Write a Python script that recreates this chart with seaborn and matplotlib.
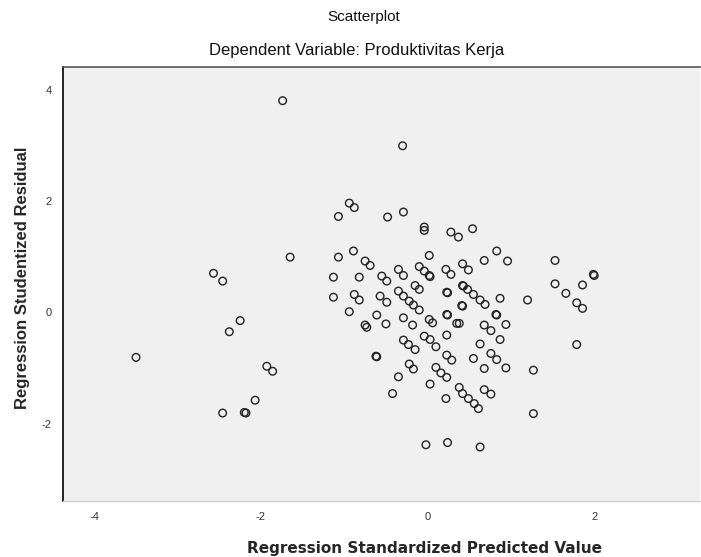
import numpy as np
import pandas as pd
import matplotlib
matplotlib.use("Agg")
import matplotlib.pyplot as plt
import seaborn as sns

# Regression standardized predicted value (x) and studentized residual (y)
pred_value = [
    -1.74, -0.30, -1.07, -0.94, -0.88, -0.48, -0.29, -0.04, -0.04, 0.28,
    0.37, 0.54, -1.65, -1.07, -0.89, -0.75, -0.69, 0.02, 0.83, 0.68,
    0.96, 1.53, 0.42, 0.49, 1.99, 2.00, 1.53, 1.86, 1.66, 1.79,
    1.86, 0.42, 0.43, 0.48, 0.55, 0.63, 0.69, 0.87, 1.20, 0.42,
    0.41, 0.82, 0.83, 0.38, 0.68, 0.76, 0.94, 0.87, 0.63, 1.79,
    0.55, 0.76, 0.83, 0.68, 0.94, 1.27, 0.38, 0.42, 0.49, 0.56,
    0.61, 0.68, 0.76, 1.27, 0.63,
    -2.57, -2.46, -2.25, -2.38, -3.50, -1.93, -1.86, -2.07, -2.46, -2.20, -2.18,
    -1.13, -0.82, -0.55, -0.49, -0.35, -0.29, -0.10, -0.04, 0.02, 0.03,
    0.22, 0.28, -1.13, -0.88, -0.82, -0.57, -0.49, -0.35, -0.29, -0.22,
    -0.17, -0.10, -0.15, -0.10, 0.23, 0.24, -0.94, -0.61, -0.50, -0.75,
    -0.73, -0.29, -0.18, 0.02, 0.06, 0.23, 0.24, 0.35, 0.23, -0.04,
    0.03, 0.10, -0.29, -0.23, -0.15, -0.62, -0.61, -0.22, -0.17, 0.10,
    0.16, 0.23, 0.23, 0.29, -0.35, -0.42, 0.03, 0.22, -0.02, 0.24,
]
stud_residual = [
    3.80, 2.99, 1.72, 1.96, 1.88, 1.71, 1.80, 1.53, 1.47, 1.44,
    1.35, 1.50, 0.99, 0.99, 1.10, 0.92, 0.84, 1.02, 1.10, 0.93,
    0.92, 0.93, 0.87, 0.76, 0.68, 0.66, 0.51, 0.49, 0.34, 0.17,
    0.07, 0.48, 0.47, 0.41, 0.32, 0.22, 0.14, 0.25, 0.22, 0.11,
    0.12, -0.04, -0.05, -0.20, -0.23, -0.33, -0.22, -0.49, -0.57, -0.58,
    -0.83, -0.74, -0.85, -1.01, -1.00, -1.04, -1.35, -1.46, -1.55, -1.64,
    -1.73, -1.39, -1.47, -1.82, -2.42,
    0.70, 0.56, -0.15, -0.35, -0.81, -0.97, -1.06, -1.58, -1.81, -1.80, -1.81,
    0.63, 0.63, 0.65, 0.56, 0.77, 0.66, 0.82, 0.74, 0.66, 0.64,
    0.77, 0.68, 0.27, 0.32, 0.22, 0.29, 0.18, 0.38, 0.29, 0.20,
    0.13, 0.04, 0.48, 0.41, 0.36, 0.35, 0.01, -0.05, -0.21, -0.23,
    -0.27, -0.10, -0.23, -0.13, -0.19, -0.04, -0.05, -0.20, -0.41, -0.43,
    -0.49, -0.62, -0.50, -0.58, -0.67, -0.79, -0.80, -0.93, -1.02, -0.99,
    -1.09, -1.17, -0.77, -0.86, -1.16, -1.46, -1.29, -1.55, -2.38, -2.34,
]

x_ticks = [-4, -2, 0, 2]
y_ticks = [-2, 0, 2, 4]
title_text = "Scatterplot"
subtitle_text = "Dependent Variable: Produktivitas Kerja"
x_label = "Regression Standardized Predicted Value"
y_label = "Regression Studentized Residual"

df = pd.DataFrame({"pred": pred_value, "resid": stud_residual})

sns.set_style("white")
plt.rcParams["font.family"] = ["Liberation Sans", "DejaVu Sans"]

fig = plt.figure(figsize=(7.01, 5.57), dpi=100)
ax = fig.add_axes([62.7 / 701, 1 - 501 / 557, (700 - 62.7) / 701, (501 - 66.7) / 557])
ax.set_facecolor("#f0f0f0")

sns.scatterplot(data=df, x="pred", y="resid", ax=ax, marker="o", s=30,
                fc="none", ec="#222222", linewidth=1.0, legend=False)

ax.set_xlim(-4.38, 3.27)
ax.set_ylim(-3.39, 4.41)
ax.set_xticks(x_ticks)
ax.set_yticks(y_ticks)
ax.set_xticklabels([str(t) for t in x_ticks], fontsize=8, color="#333333")
ax.set_yticklabels([str(t) for t in y_ticks], fontsize=8, color="#333333")
ax.tick_params(axis="x", direction="out", length=6, width=1.2, color="#333333", pad=2)
ax.tick_params(axis="y", direction="out", length=6, width=1.2, color="#333333", pad=2)

ax.spines["right"].set_visible(False)
ax.spines["left"].set_color("#222222")
ax.spines["left"].set_linewidth(1.4)
ax.spines["top"].set_color("#555555")
ax.spines["top"].set_linewidth(1.2)
ax.spines["bottom"].set_color("#d0d0d0")
ax.spines["bottom"].set_linewidth(1.0)

ax.set_xlabel("")
ax.set_ylabel("")
fig.text(424 / 701, 1 - 548 / 557, x_label, ha="center", va="center",
         fontsize=11, fontweight="bold", family=["DejaVu Sans"])
fig.text(22.7 / 701, 1 - 278 / 557, y_label, ha="center", va="center",
         rotation=90, fontsize=12, fontweight="bold")
fig.text(364 / 701, 1 - 17 / 557, title_text, ha="center", va="center",
         fontsize=11, color="#111111")
fig.text(357 / 701, 1 - 50 / 557, subtitle_text, ha="center", va="center",
         fontsize=12, color="#111111")

fig.savefig("out.png", dpi=100, facecolor="white")
